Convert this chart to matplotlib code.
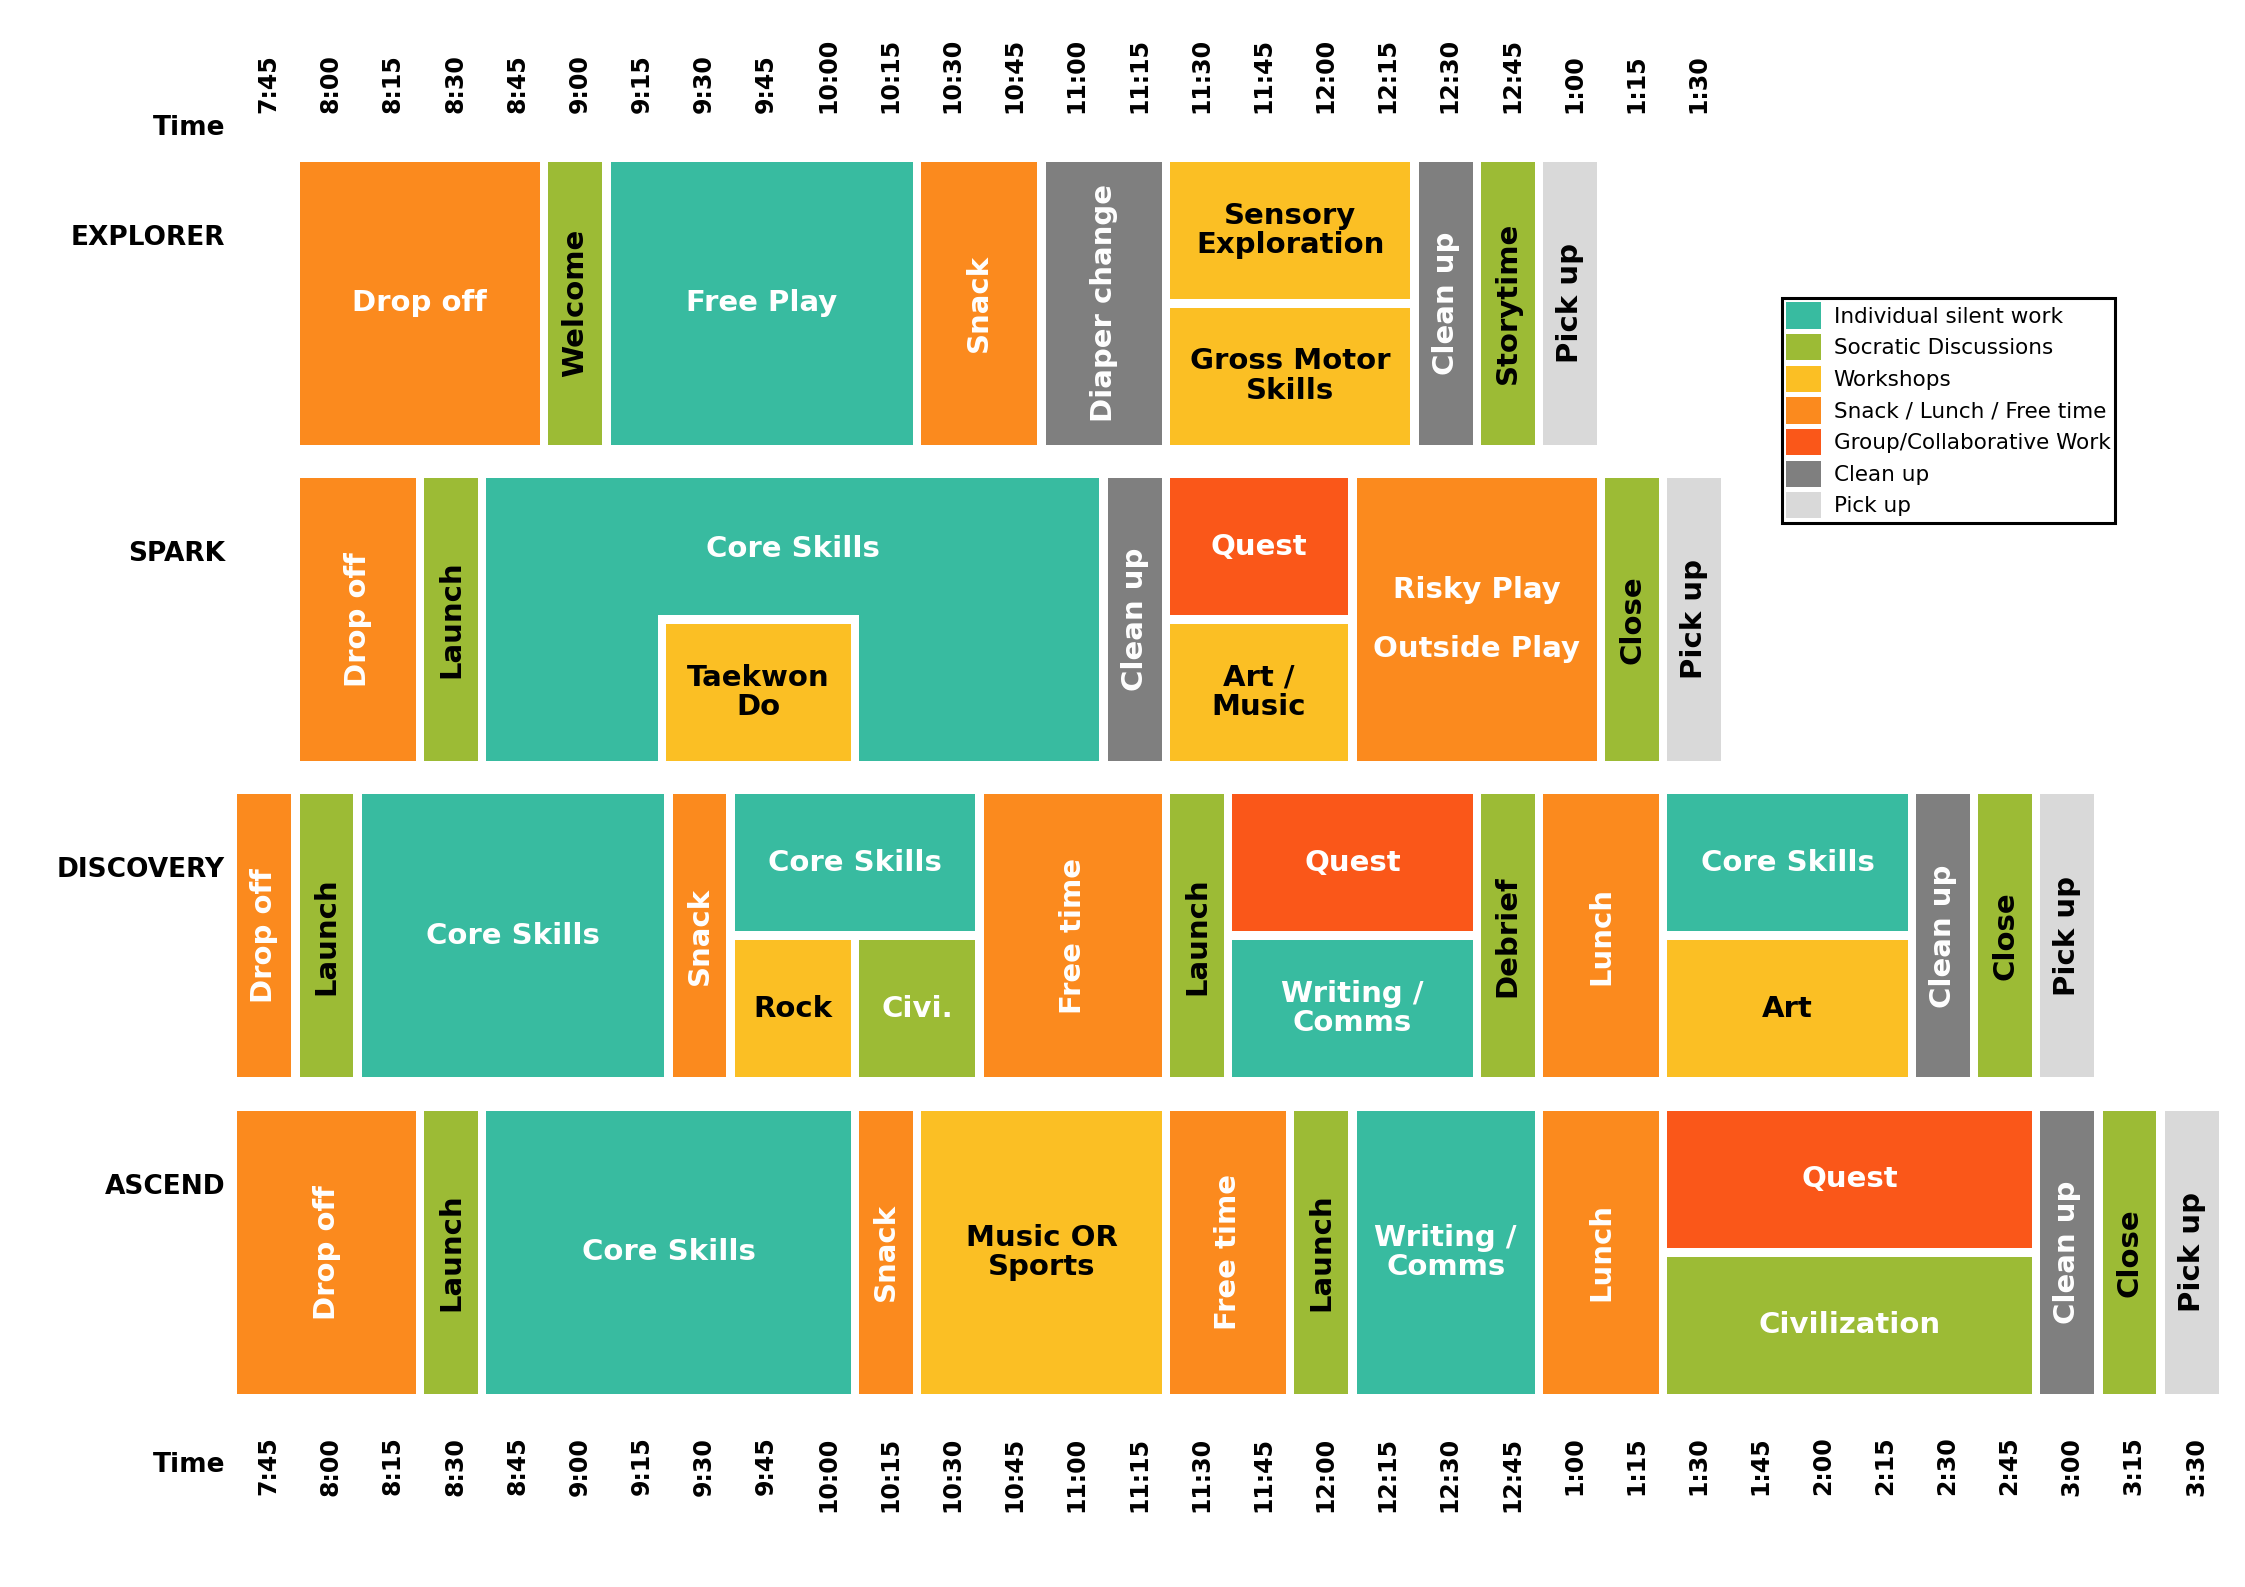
import matplotlib
matplotlib.use("Agg")
import matplotlib.pyplot as plt
from matplotlib.patches import Rectangle, Patch

TEAL = "#38BBA0"
GREEN = "#9CBB35"
YELLOW = "#FBBF24"
ORANGE = "#FB8A1E"
RED = "#FA5719"
GRAY = "#7F7F7F"
LIGHT = "#D9D9D9"

top_times = ["7:45", "8:00", "8:15", "8:30", "8:45", "9:00", "9:15", "9:30", "9:45",
             "10:00", "10:15", "10:30", "10:45", "11:00", "11:15", "11:30", "11:45",
             "12:00", "12:15", "12:30", "12:45", "1:00", "1:15", "1:30"]
bottom_times = top_times + ["1:45", "2:00", "2:15", "2:30", "2:45", "3:00", "3:15", "3:30"]

groups = ["EXPLORER", "SPARK", "DISCOVERY", "ASCEND"]

# (start slot, end slot, part, label, colour, rotated)
explorer = [
    (1, 5, "full", "Drop off", ORANGE, False),
    (5, 6, "full", "Welcome", GREEN, True),
    (6, 11, "full", "Free Play", TEAL, False),
    (11, 13, "full", "Snack", ORANGE, True),
    (13, 15, "full", "Diaper change", GRAY, True),
    (15, 19, "top", "Sensory\nExploration", YELLOW, False),
    (15, 19, "bot", "Gross Motor\nSkills", YELLOW, False),
    (19, 20, "full", "Clean up", GRAY, True),
    (20, 21, "full", "Storytime", GREEN, True),
    (21, 22, "full", "Pick up", LIGHT, True),
]
spark = [
    (1, 3, "full", "Drop off", ORANGE, True),
    (3, 4, "full", "Launch", GREEN, True),
    (4, 14, "core", "Core Skills", TEAL, False),
    (6.9, 10, "bot", "Taekwon\nDo", YELLOW, False),
    (14, 15, "full", "Clean up", GRAY, True),
    (15, 18, "top", "Quest", RED, False),
    (15, 18, "bot", "Art /\nMusic", YELLOW, False),
    (18, 22, "full", "Risky Play\n\nOutside Play", ORANGE, False),
    (22, 23, "full", "Close", GREEN, True),
    (23, 24, "full", "Pick up", LIGHT, True),
]
discovery = [
    (0, 1, "full", "Drop off", ORANGE, True),
    (1, 2, "full", "Launch", GREEN, True),
    (2, 7, "full", "Core Skills", TEAL, False),
    (7, 8, "full", "Snack", ORANGE, True),
    (8, 12, "top", "Core Skills", TEAL, False),
    (8, 10, "bot", "Rock", YELLOW, False),
    (10, 12, "bot", "Civi.", GREEN, False),
    (12, 15, "full", "Free time", ORANGE, True),
    (15, 16, "full", "Launch", GREEN, True),
    (16, 20, "top", "Quest", RED, False),
    (16, 20, "bot", "Writing /\nComms", TEAL, False),
    (20, 21, "full", "Debrief", GREEN, True),
    (21, 23, "full", "Lunch", ORANGE, True),
    (23, 27, "top", "Core Skills", TEAL, False),
    (23, 27, "bot", "Art", YELLOW, False),
    (27, 28, "full", "Clean up", GRAY, True),
    (28, 29, "full", "Close", GREEN, True),
    (29, 30, "full", "Pick up", LIGHT, True),
]
ascend = [
    (0, 3, "full", "Drop off", ORANGE, True),
    (3, 4, "full", "Launch", GREEN, True),
    (4, 10, "full", "Core Skills", TEAL, False),
    (10, 11, "full", "Snack", ORANGE, True),
    (11, 15, "full", "Music OR\nSports", YELLOW, False),
    (15, 17, "full", "Free time", ORANGE, True),
    (17, 18, "full", "Launch", GREEN, True),
    (18, 21, "full", "Writing /\nComms", TEAL, False),
    (21, 23, "full", "Lunch", ORANGE, True),
    (23, 29, "top", "Quest", RED, False),
    (23, 29, "bot", "Civilization", GREEN, False),
    (29, 30, "full", "Clean up", GRAY, True),
    (30, 31, "full", "Close", GREEN, True),
    (31, 32, "full", "Pick up", LIGHT, True),
]
schedule = [explorer, spark, discovery, ascend]

dark_text = {YELLOW, LIGHT}
dark_labels = {"Welcome", "Storytime", "Launch", "Close", "Debrief"}

fig = plt.figure(figsize=(22.45, 15.87), dpi=100)
ax = fig.add_axes([0, 0, 1, 1])
ax.set_xlim(-3.82, 32.29)
ax.set_ylim(4.505, -0.511)
ax.axis("off")

H = 0.894
GAP = 0.135
VGAP = 0.028
FS = 21

for r, blocks in enumerate(schedule):
    for x0, x1, part, label, col, rot in blocks:
        w = x1 - x0 - GAP
        if part == "top":
            y0, h = r, H / 2 - VGAP / 2
        elif part == "bot":
            y0, h = r + H / 2 + VGAP / 2, H / 2 - VGAP / 2
        else:
            y0, h = r, H
        ec = "white" if label == "Taekwon\nDo" else "none"
        if label == "Taekwon\nDo":
            ax.add_patch(Rectangle((x0 - GAP, y0 - VGAP), w + 2 * GAP, h + VGAP,
                                   facecolor="white", edgecolor="none"))
        ax.add_patch(Rectangle((x0, y0), w, h, facecolor=col, edgecolor="none"))
        ty = y0 + h / 2
        if part == "core":
            ty = r + H / 4
        tc = "black" if (col in dark_text or label in dark_labels) else "white"
        if col == GREEN and label in ("Civi.", "Civilization"):
            tc = "white"
        ax.text(x0 + w / 2, ty, label, rotation=90 if rot else 0, ha="center", va="center",
                color=tc, fontsize=FS, fontweight="bold", linespacing=1.05)
    ax.text(-0.2, r + 0.24, groups[r], ha="right", va="center", fontsize=19, fontweight="bold")

for k, t in enumerate(top_times):
    ax.text(k + 0.5, -0.155, t, rotation=90, ha="center", va="bottom", fontsize=17, fontweight="bold")
for k, t in enumerate(bottom_times):
    ax.text(k + 0.5, 4.03, t, rotation=90, ha="center", va="top", fontsize=17, fontweight="bold")
ax.text(-0.2, -0.107, "Time", ha="right", va="center", fontsize=19, fontweight="bold")
ax.text(-0.2, 4.12, "Time", ha="right", va="center", fontsize=19, fontweight="bold")

legend_items = [("Individual silent work", TEAL), ("Socratic Discussions", GREEN),
                ("Workshops", YELLOW), ("Snack / Lunch / Free time", ORANGE),
                ("Group/Collaborative Work", RED), ("Clean up", GRAY), ("Pick up", LIGHT)]
handles = [Patch(facecolor=c, label=l) for l, c in legend_items]
leg = fig.legend(handles=handles, loc="upper left", bbox_to_anchor=(0.789, 0.819),
                 fontsize=15.5, fancybox=False, framealpha=1, edgecolor="black",
                 handlelength=1.6, handleheight=1.5, handletextpad=0.6,
                 labelspacing=0.25, borderpad=0.2)
leg.get_frame().set_linewidth(2.2)

fig.savefig("out.png", dpi=100, facecolor="white")
